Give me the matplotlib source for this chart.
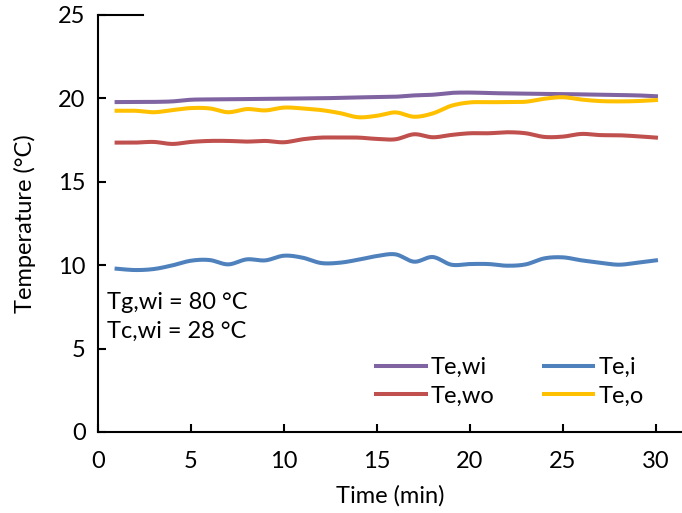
import numpy as np
import matplotlib.pyplot as plt

plt.rcParams['font.family'] = ['Lato', 'DejaVu Sans']

# data (minute 1..30)
time_min = list(range(1, 31))
te_wi = [19.78, 19.79, 19.79, 19.82, 19.92, 19.94, 19.95, 19.96, 19.97, 19.98,
         20.00, 20.01, 20.03, 20.06, 20.08, 20.10, 20.18, 20.22, 20.33, 20.35,
         20.32, 20.30, 20.28, 20.27, 20.26, 20.24, 20.22, 20.20, 20.18, 20.13]
te_o = [19.26, 19.26, 19.17, 19.30, 19.42, 19.40, 19.17, 19.36, 19.28, 19.45,
        19.40, 19.30, 19.12, 18.87, 18.96, 19.16, 18.90, 19.10, 19.56, 19.76,
        19.77, 19.78, 19.80, 19.98, 20.07, 19.93, 19.84, 19.82, 19.84, 19.90]
te_wo = [17.35, 17.35, 17.39, 17.27, 17.39, 17.45, 17.45, 17.41, 17.45, 17.37,
         17.55, 17.65, 17.65, 17.65, 17.57, 17.55, 17.85, 17.67, 17.81, 17.91,
         17.91, 17.97, 17.91, 17.69, 17.71, 17.87, 17.80, 17.79, 17.73, 17.65]
te_i = [9.79, 9.71, 9.77, 9.99, 10.27, 10.31, 10.05, 10.35, 10.29, 10.57,
        10.45, 10.13, 10.15, 10.33, 10.55, 10.65, 10.21, 10.49, 10.03, 10.07,
        10.07, 9.97, 10.05, 10.41, 10.47, 10.29, 10.15, 10.03, 10.15, 10.29]


def smooth(x, y, n=20):
    # Excel-like smoothed line (Catmull-Rom through the points)
    x = np.asarray(x, float)
    y = np.asarray(y, float)
    px = np.concatenate([[x[0]], x, [x[-1]]])
    py = np.concatenate([[y[0]], y, [y[-1]]])
    xs, ys = [], []
    t = np.linspace(0, 1, n, endpoint=False)
    for i in range(1, len(px) - 2):
        p0 = np.array([px[i], py[i]])
        p3 = np.array([px[i + 1], py[i + 1]])
        c1 = p0 + (np.array([px[i + 1], py[i + 1]]) - np.array([px[i - 1], py[i - 1]])) / 6
        c2 = p3 - (np.array([px[i + 2], py[i + 2]]) - np.array([px[i], py[i]])) / 6
        b = ((1 - t) ** 3)[:, None] * p0 + (3 * (1 - t) ** 2 * t)[:, None] * c1 \
            + (3 * (1 - t) * t ** 2)[:, None] * c2 + (t ** 3)[:, None] * p3
        xs.extend(b[:, 0])
        ys.extend(b[:, 1])
    xs.append(x[-1])
    ys.append(y[-1])
    return xs, ys


fs = 17

fig = plt.figure(figsize=(6.82, 5.13), dpi=100)
ax = fig.add_axes([98 / 682, 81 / 513, 584 / 682, 417 / 513])

lw = 2.9
h_wi, = ax.plot(*smooth(time_min, te_wi), color='#8064A2', lw=lw, label='Te,wi')
h_i, = ax.plot(*smooth(time_min, te_i), color='#4F81BD', lw=lw, label='Te,i')
h_wo, = ax.plot(*smooth(time_min, te_wo), color='#C0504D', lw=lw, label='Te,wo')
h_o, = ax.plot(*smooth(time_min, te_o), color='#FFC000', lw=lw, label='Te,o')

ax.set_xlim(0, 31.4)
ax.set_ylim(0, 25)
ax.set_xticks(range(0, 31, 5))
ax.set_yticks(range(0, 26, 5))
ax.spines['top'].set_visible(False)
ax.spines['right'].set_visible(False)
for s in ['left', 'bottom']:
    ax.spines[s].set_linewidth(1.5)
ax.tick_params(direction='in', length=6, width=1.5, labelsize=fs)
ax.tick_params(axis='x', pad=14)
ax.tick_params(axis='y', pad=9)
ax.plot([0, 2.4], [25, 25], color='black', lw=1.5, clip_on=False)

ax.set_xlabel('Time (min)', fontsize=fs, labelpad=9)
ax.set_ylabel('Temperature (°C)', fontsize=fs, labelpad=16)

ax.text(0.5, 7.75, 'Tg,wi = 80 °C', fontsize=fs, va='center')
ax.text(0.5, 6.05, 'Tc,wi = 28 °C', fontsize=fs, va='center')

ax.legend(handles=[h_wi, h_wo, h_i, h_o], ncol=2, frameon=False, fontsize=fs,
          loc='center left', bbox_to_anchor=(0.44, 0.12), handlelength=2.1,
          handletextpad=0.2, columnspacing=2.1, labelspacing=0.32)

plt.savefig('out.png', dpi=100)
